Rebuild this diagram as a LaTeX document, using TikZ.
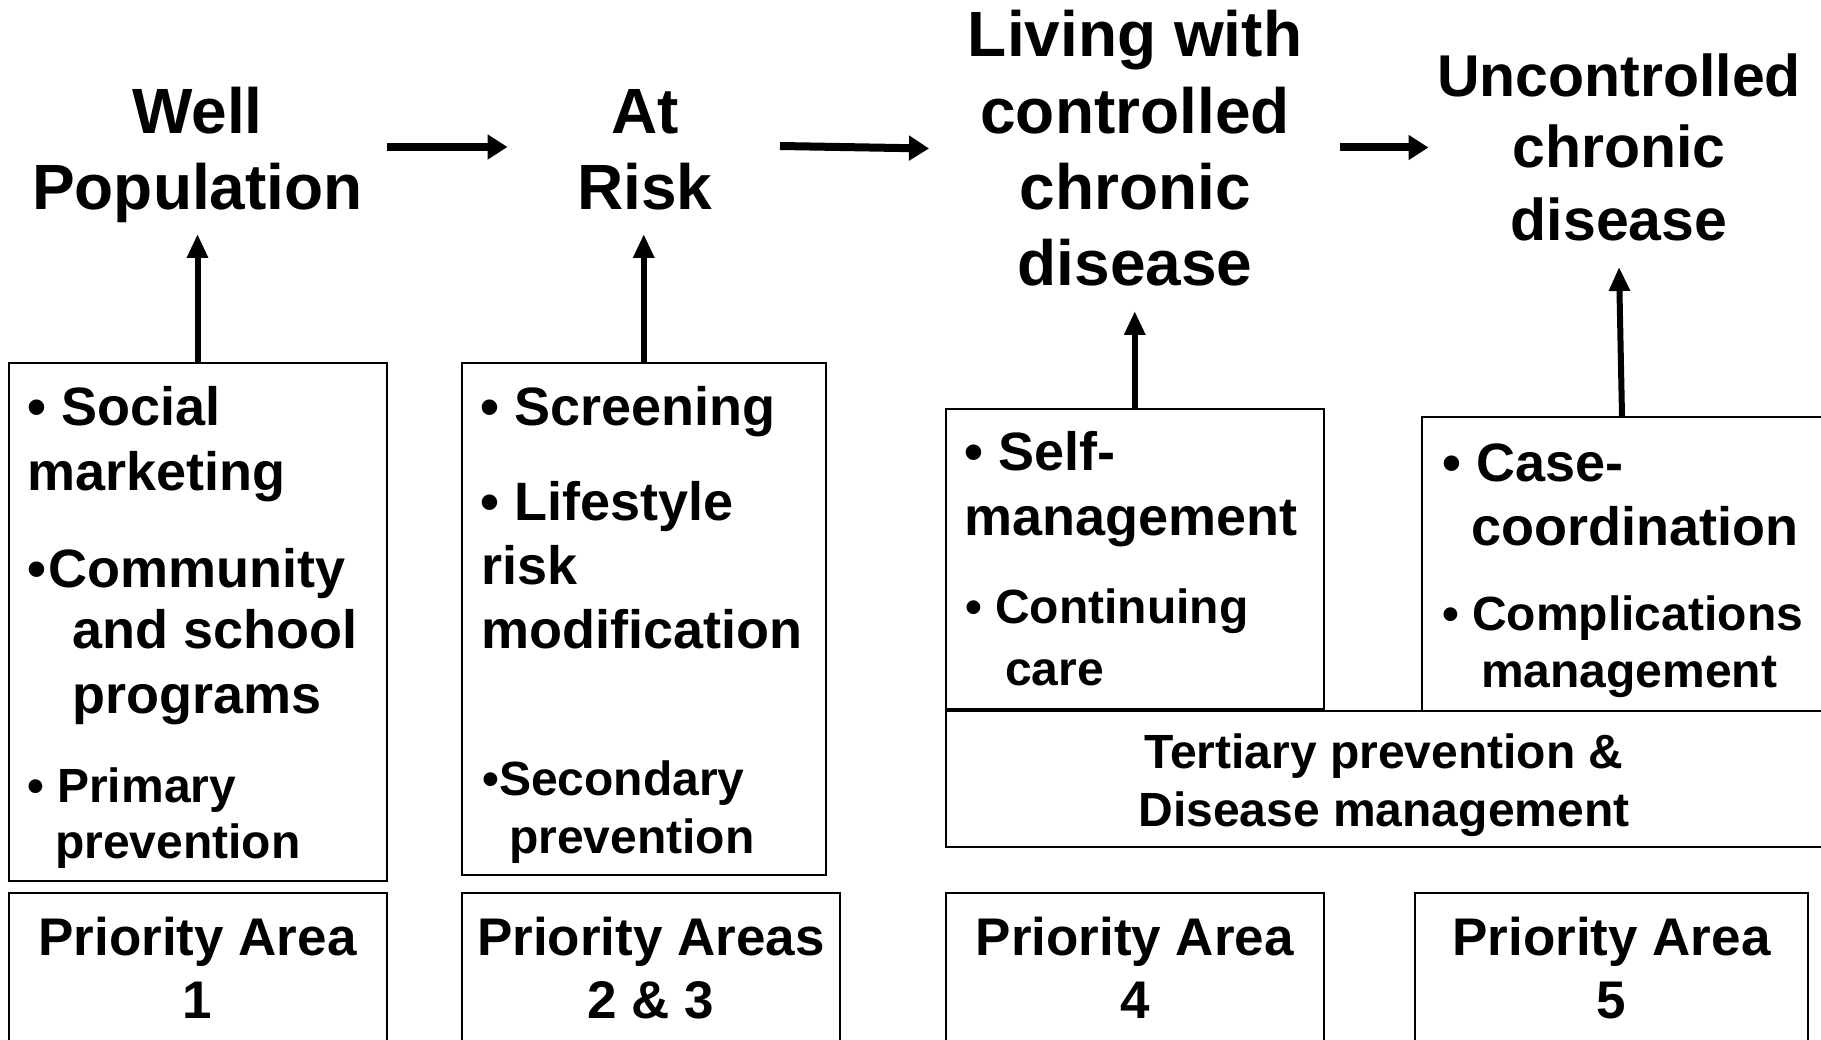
\documentclass[tikz,border=0pt]{standalone}
\usepackage{fontspec}
\setmainfont{Liberation Sans}
\usetikzlibrary{arrows.meta}

\tikzset{
  box/.style={draw=black, line width=2pt, rectangle, inner sep=0pt},
  txt/.style={inner sep=0pt, anchor=base west},
  ctxt/.style={inner sep=0pt, anchor=base},
  title/.style={ctxt, font=\fontsize{64}{76}\selectfont\bfseries},
  titlesm/.style={ctxt, font=\fontsize{59}{71}\selectfont\bfseries},
  big/.style={txt, font=\fontsize{54}{64}\selectfont\bfseries},
  small/.style={txt, font=\fontsize{48}{58}\selectfont\bfseries},
  csmall/.style={ctxt, font=\fontsize{48}{58}\selectfont\bfseries},
  cbig/.style={ctxt, font=\fontsize{53}{63}\selectfont\bfseries},
  harrow/.style={line width=8pt, -{Triangle[width=24pt,length=20pt]}},
  varrow/.style={line width=6pt, -{Triangle[width=20pt,length=24pt]}},
}

\begin{document}
\begin{tikzpicture}[x=1pt,y=-1pt]
\useasboundingbox (0,0) rectangle (1821,1040);
\clip (0,0) rectangle (1821,1040);

% stages along the top
\node[title] (wp1) at (197.5,133.5) {Well};
\node[title] (wp2) at (197.5,209.5) {Population};
\node[title] (ar1) at (645,133.5) {At};
\node[title] (ar2) at (645,209.5) {Risk};
\node[title] (lc1) at (1135,57) {Living with};
\node[title] (lc2) at (1135,134) {controlled};
\node[title] (lc3) at (1135,210) {chronic};
\node[title] (lc4) at (1135,286) {disease};
\node[titlesm] (uc1) at (1619,97) {Uncontrolled};
\node[titlesm] (uc2) at (1619,168) {chronic};
\node[titlesm] (uc3) at (1619,241) {disease};

% progression arrows between stages
\coordinate (h1a) at (387,147);   \coordinate (h1b) at (507.5,147);
\coordinate (h2a) at (780,146);   \coordinate (h2b) at (929,148.5);
\coordinate (h3a) at (1340,147.5); \coordinate (h3b) at (1428.5,147.5);
\draw[harrow] (h1a) -- (h1b);
\draw[harrow] (h2a) -- (h2b);
\draw[harrow] (h3a) -- (h3b);

% intervention boxes
\node[box, minimum width=378pt, minimum height=518pt] (b1) at (197.5,622) {};
\node[box, minimum width=363.5pt, minimum height=512pt] (b2) at (643.75,619) {};
\node[box, minimum width=377.5pt, minimum height=300pt] (b3) at (1134.75,559) {};
\node[box, minimum width=400pt, minimum height=294pt] (b4) at (1622,564) {};
\node[box, minimum width=876pt, minimum height=136pt] (tp) at (1384,779) {};

% priority area boxes
\node[box, minimum width=378pt, minimum height=162pt] (p1) at (197.5,973.5) {};
\node[box, minimum width=378pt, minimum height=162pt] (p2) at (651,973.5) {};
\node[box, minimum width=377.5pt, minimum height=162pt] (p3) at (1134.75,973.5) {};
\node[box, minimum width=393pt, minimum height=162pt] (p4) at (1611.5,973.5) {};

% arrows from boxes up to stages
\coordinate (t1) at (197.5,234);
\coordinate (t2) at (643.75,234);
\coordinate (t3) at (1134.75,311);
\coordinate (t4) at (1619,267);
\draw[varrow] (b1.north) -- (t1);
\draw[varrow] (b2.north) -- (t2);
\draw[varrow] (b3.north) -- (t3);
\draw[varrow] (b4.north) -- (t4);

% box 1 contents
\node[big] (s1) at (27,425) {• Social};
\node[big] (s2) at (27,490) {marketing};
\node[big] (s3) at (27,587) {•\hspace{2pt}Community};
\node[big] (s4) at (72,648) {and school};
\node[big] (s5) at (72,713) {programs};
\node[small] (s6) at (27,802) {• Primary};
\node[small] (s7) at (55,858) {prevention};

% box 2 contents
\node[big] (r1) at (480,425) {• Screening};
\node[big] (r2) at (480,520) {• Lifestyle};
\node[big] (r3) at (481,584) {risk};
\node[big] (r4) at (481,648) {modification};
\node[small] (r5) at (482,795) {•Secondary};
\node[small] (r6) at (509,853) {prevention};

% box 3 contents
\node[big] (c1) at (964,471) {• Self-};
\node[big] (c2) at (964,535) {management};
\node[small] (c3) at (965,623) {• Continuing};
\node[small] (c4) at (1005,685) {care};

% box 4 contents
\node[big] (u1) at (1442,481.5) {• Case-};
\node[big] (u2) at (1471,545) {coordination};
\node[small] (u3) at (1442,630) {• Complications};
\node[small] (u4) at (1481,687) {management};

% shared box for stages 3 and 4
\node[csmall] (tp1) at (1384,768) {Tertiary prevention \&};
\node[csmall] (tp2) at (1384,826) {Disease management};

% priority area labels
\node[cbig] (pa1) at (197.5,955) {Priority Area};
\node[cbig] (pn1) at (197.5,1018) {1};
\node[cbig] (pa2) at (651,955) {Priority Areas};
\node[cbig] (pn2) at (651,1018) {2 \& 3};
\node[cbig] (pa3) at (1134.75,955) {Priority Area};
\node[cbig] (pn3) at (1134.75,1018) {4};
\node[cbig] (pa4) at (1611.5,955) {Priority Area};
\node[cbig] (pn4) at (1611.5,1018) {5};
\end{tikzpicture}
\end{document}
